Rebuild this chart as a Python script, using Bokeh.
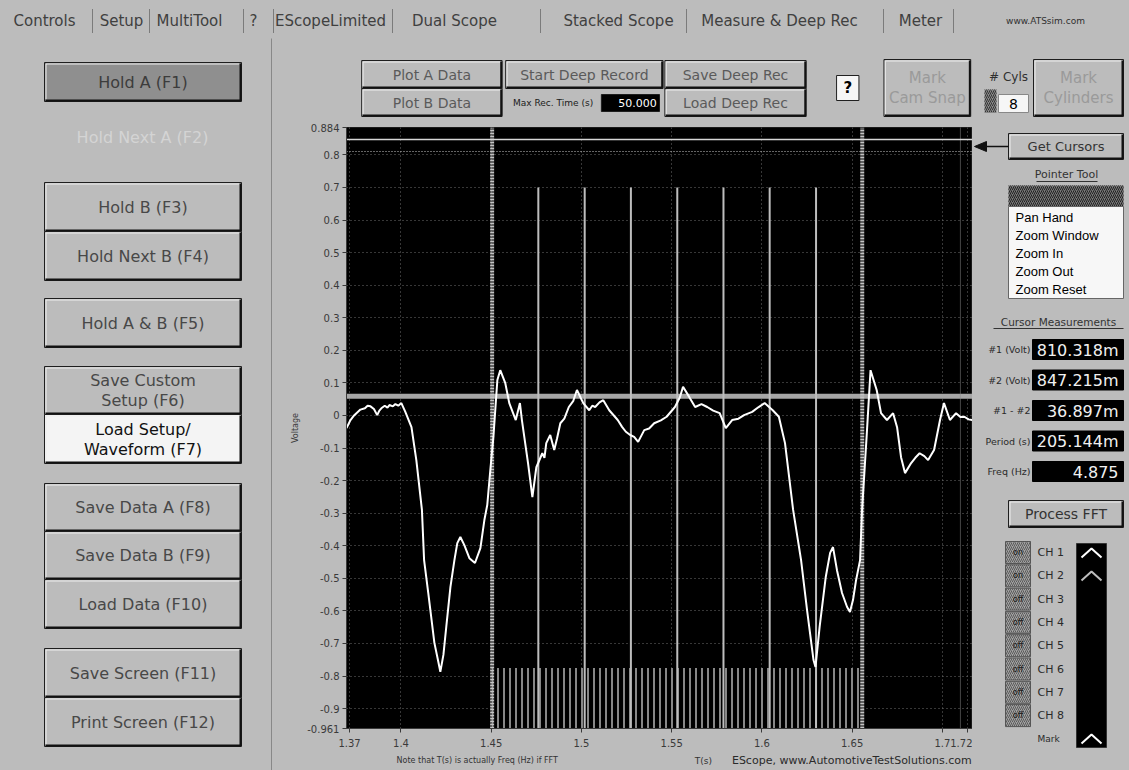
from bokeh.plotting import figure
from bokeh.layouts import row, column
from bokeh.models import Range1d, FixedTicker
from bokeh.core.properties import value
from bokeh.embed import file_html
from bokeh.resources import INLINE

# ---------------- data ----------------
time_s = [1.3698, 1.3720, 1.3740, 1.3753, 1.3775, 1.3800, 1.3815, 1.3831, 1.3850, 1.3868,
          1.3880, 1.3891, 1.3910, 1.3925, 1.3936, 1.3955, 1.3969, 1.3985, 1.4002, 1.4024,
          1.4058, 1.4085, 1.4116, 1.4128, 1.4151, 1.4185, 1.4207, 1.4218, 1.4235, 1.4251,
          1.4274, 1.4296, 1.4312, 1.4329, 1.4351, 1.4379, 1.4410, 1.4440, 1.4462, 1.4478,
          1.4495, 1.4512, 1.4534, 1.4550, 1.4578, 1.4600, 1.4636, 1.4659, 1.4670, 1.4704,
          1.4728, 1.4750, 1.4783, 1.4795, 1.4805, 1.4827, 1.4849, 1.4865, 1.4883, 1.4905,
          1.4930, 1.4955, 1.4975, 1.4995, 1.5010, 1.5043, 1.5060, 1.5076, 1.5100, 1.5121,
          1.5154, 1.5201, 1.5225, 1.5246, 1.5270, 1.5292, 1.5314, 1.5348, 1.5375, 1.5403,
          1.5440, 1.5472, 1.5518, 1.5545, 1.5563, 1.5597, 1.5630, 1.5665, 1.5697, 1.5730,
          1.5766, 1.5800, 1.5835, 1.5870, 1.5901, 1.5946, 1.5980, 1.6015, 1.6060, 1.6094,
          1.6128, 1.6173, 1.6217, 1.6250, 1.6286, 1.6297, 1.6320, 1.6354, 1.6378, 1.6394,
          1.6416, 1.6444, 1.6472, 1.6488, 1.6505, 1.6522, 1.6544, 1.6555, 1.6580, 1.6602,
          1.6636, 1.6660, 1.6693, 1.6727, 1.6749, 1.6771, 1.6793, 1.6827, 1.6850, 1.6874,
          1.6900, 1.6921, 1.6954, 1.6987, 1.7009, 1.7042, 1.7076, 1.7100, 1.7122, 1.7145,
          1.7167]
voltage_v = [-0.039, -0.014, 0.000, 0.007, 0.018, 0.022, 0.030, 0.028, 0.020, 0.001,
             0.015, 0.022, 0.030, 0.024, 0.032, 0.028, 0.035, 0.030, 0.038, 0.011,
             -0.036, -0.137, -0.290, -0.444, -0.545, -0.698, -0.757, -0.787, -0.735, -0.648,
             -0.526, -0.444, -0.392, -0.373, -0.398, -0.438, -0.453, -0.407, -0.321, -0.275,
             -0.168, -0.066, 0.109, 0.139, 0.099, 0.038, -0.014, 0.038, -0.014, -0.146,
             -0.251, -0.159, -0.116, -0.130, -0.085, -0.060, -0.106, -0.070, -0.024, -0.010,
             0.026, 0.045, 0.078, 0.055, 0.038, 0.016, 0.030, 0.026, 0.040, 0.047,
             0.016, -0.014, -0.035, -0.050, -0.060, -0.066, -0.081, -0.045, -0.040, -0.024,
             -0.015, -0.004, 0.026, 0.055, 0.088, 0.057, 0.026, 0.035, 0.026, 0.015,
             0.007, -0.039, -0.014, -0.010, 0.001, 0.011, 0.025, 0.038, 0.016, -0.004,
             -0.085, -0.290, -0.444, -0.597, -0.751, -0.772, -0.648, -0.495, -0.422, -0.404,
             -0.475, -0.545, -0.588, -0.603, -0.566, -0.505, -0.444, -0.290, -0.067, 0.139,
             0.078, 0.007, -0.014, 0.007, -0.036, -0.128, -0.177, -0.146, -0.130, -0.116,
             -0.125, -0.137, -0.106, -0.014, 0.038, -0.014, 0.007, -0.005, -0.004, -0.012,
             -0.014]

ch2_time = [1.3698, 1.7167]
ch2_volt = [0.059, 0.059]

cursor_time = [1.4505, 1.6556]
cursor_volt = [0.8103, 0.8472]
cylinder_time = [1.4761, 1.5018, 1.5274, 1.5531, 1.5787, 1.6043, 1.6300]
cylinder_top = 0.70
mark_level = -0.775
ref_time = 1.7100

x_limits = [1.3698, 1.7167]
y_limits = [-0.961, 0.884]
x_ticks = [1.3715, 1.4, 1.45, 1.5, 1.55, 1.6, 1.65, 1.7, 1.714]
x_tick_labels = ["1.37", "1.4", "1.45", "1.5", "1.55", "1.6", "1.65", "1.7", "1.72"]
y_ticks = [0.884, 0.8, 0.7, 0.6, 0.5, 0.4, 0.3, 0.2, 0.1, 0.0,
           -0.1, -0.2, -0.3, -0.4, -0.5, -0.6, -0.7, -0.8, -0.9, -0.961]
y_tick_labels = ["0.884", "0.8", "0.7", "0.6", "0.5", "0.4", "0.3", "0.2", "0.1", "0",
                 "-0.1", "-0.2", "-0.3", "-0.4", "-0.5", "-0.6", "-0.7", "-0.8", "-0.9", "-0.961"]

tab_labels = ["Controls", "Setup", "MultiTool", "?", "EScopeLimited", "Dual Scope",
              "Stacked Scope", "Measure & Deep Rec", "Meter"]
site_label = "www.ATSsim.com"
left_buttons = [["Hold A (F1)"], ["Hold B (F3)"], ["Hold Next B (F4)"], ["Hold A & B (F5)"],
                ["Save Custom", "Setup (F6)"], ["Load Setup/", "Waveform (F7)"],
                ["Save Data A (F8)"], ["Save Data B (F9)"], ["Load Data (F10)"],
                ["Save Screen (F11)"], ["Print Screen (F12)"]]
disabled_left = "Hold Next A (F2)"
measure_names = ["#1 (Volt)", "#2 (Volt)", "#1 - #2", "Period (s)", "Freq (Hz)"]
measure_values = ["810.318m", "847.215m", "36.897m", "205.144m", "4.875"]
pointer_tools = ["Pan Hand", "Zoom Window", "Zoom In", "Zoom Out", "Zoom Reset"]
channel_names = ["CH 1", "CH 2", "CH 3", "CH 4", "CH 5", "CH 6", "CH 7", "CH 8"]
channel_states = ["on", "on", "off", "off", "off", "off", "off", "off"]
cylinder_count = "8"
max_rec_time = "50.000"
note_text = "Note that T(s) is actually Freq (Hz) if FFT"
x_title = "T(s)"
credit_text = "EScope, www.AutomotiveTestSolutions.com"

# ---------------- styles ----------------
BG = "#bcbcbc"
TXT = "#484848"
FAINT = "#9a9a9a"
FONT = "DejaVu Sans"
ARIAL = "Liberation Sans"
GRAY_CSS = {"background-color": BG}


def ui_panel(x0, x1, y0, y1):
    p = figure(width=x1 - x0, height=y1 - y0,
               x_range=Range1d(x0, x1), y_range=Range1d(y1, y0),
               x_axis_type=None, y_axis_type=None,
               output_backend="svg", toolbar_location=None,
               min_border=0, outline_line_color=None,
               background_fill_color=BG, border_fill_color=BG)
    return p


def txt(p, x, y, s, size, color=TXT, align="center", font=FONT, style="normal"):
    p.text(x=[x], y=[y], text=[s], text_align=align, text_baseline="middle",
           text_color=color, text_font=value(font), text_font_size=size,
           text_font_style=style)


def box(p, x0, y0, x1, y1, fill, line="#1e1e1e", width=1, hatch=None, hatch_color="#4a4a4a"):
    kw = {}
    if hatch:
        kw = dict(hatch_pattern=hatch, hatch_color=hatch_color, hatch_scale=4, hatch_weight=1)
    p.quad(left=[x0], right=[x1], top=[y0], bottom=[y1], fill_color=fill,
           line_color=line, line_width=width, **kw)


def button(p, x0, y0, x1, y1, lines, fill=BG, color=TXT, size="16px", font=FONT, lh=20):
    box(p, x0, y0, x1, y1, fill)
    p.line([x0 + 1.5, x0 + 1.5, x1 - 2], [y1 - 2, y0 + 1.5, y0 + 1.5], line_color="#ededed", line_width=1)
    p.line([x0 + 1, x1 - 1, x1 - 1], [y1 - 1, y1 - 1, y0 + 1], line_color="#111111", line_width=2)
    n = len(lines)
    cy = (y0 + y1) / 2
    for i, s in enumerate(lines):
        txt(p, (x0 + x1) / 2, cy + (i - (n - 1) / 2) * lh, s, size, color, font=font)


# ---------------- top tab bar ----------------
top = ui_panel(0, 1129, 0, 38)
tab_x = [44, 121, 189, 253, 330, 454, 618, 779, 920]
for x, s in zip(tab_x, tab_labels):
    txt(top, x, 20, s, "15px", color="#404040")
for x in [92, 149, 243, 273, 392, 540, 686, 883, 953]:
    top.line([x, x], [9, 33], line_color="#3a3a3a", line_width=1, line_dash="1 1")
txt(top, 1045, 20, site_label, "9px", color="#303030")

# ---------------- left control panel ----------------
left = ui_panel(0, 272, 38, 770)
left_boxes = [(62, 101), (182, 231), (231, 280), (298, 347), (366, 414), (414, 463),
              (483, 531), (531, 579), (579, 628), (648, 697), (697, 746)]
for (y0, y1), lines in zip(left_boxes, left_buttons):
    if lines[0] == "Hold A (F1)":
        button(left, 44, y0, 241, y1, lines, fill="#8f8f8f", color="#3c3c3c")
    elif lines[0] == "Load Setup/":
        button(left, 44, y0, 241, y1, lines, fill="#f4f4f4", color="#111111")
    else:
        button(left, 44, y0, 241, y1, lines)
txt(left, 142, 137, disabled_left, "16px", color="#d4d4d4")
left.line([271, 271], [38, 770], line_color="#555555", line_width=1, line_dash="1 1")

# ---------------- top buttons above the scope ----------------
mid = ui_panel(272, 972, 38, 120)
button(mid, 289, 60, 446, 88, ["Plot A Data"], size="14px", color="#5a5a5a")
button(mid, 289, 88, 446, 116, ["Plot B Data"], size="14px", color="#5a5a5a")
button(mid, 450, 60, 626, 88, ["Start Deep Record"], size="14px", color="#5a5a5a")
txt(mid, 503, 102, "Max Rec. Time (s)", "9px", color="#202020")
box(mid, 557, 94, 622, 111, "#000000")
txt(mid, 619, 102.5, max_rec_time, "11px", color="white", align="right")
button(mid, 628, 60, 786, 88, ["Save Deep Rec"], size="14px", color="#5a5a5a")
button(mid, 628, 88, 786, 116, ["Load Deep Rec"], size="14px", color="#5a5a5a")
box(mid, 820, 75, 845, 100, "#f6f6f6", line="#202020")
txt(mid, 832.5, 87.5, "?", "15px", color="#000000", style="bold")
button(mid, 873, 59, 970, 116, ["Mark", "Cam Snap"], size="15px", color=FAINT, lh=20)

# ---------------- main scope plot ----------------
main = figure(width=700, height=632,
              x_range=Range1d(x_limits[0], x_limits[1]),
              y_range=Range1d(y_limits[0], y_limits[1]),
              output_backend="svg", toolbar_location=None,
              min_border_left=74, min_border_right=0, min_border_top=7, min_border_bottom=24,
              background_fill_color="#000000", border_fill_color=BG,
              outline_line_color="#1a1a1a")
main.xaxis.ticker = FixedTicker(ticks=x_ticks)
main.xaxis.major_label_overrides = {t: s for t, s in zip(x_ticks, x_tick_labels)}
main.yaxis.ticker = FixedTicker(ticks=y_ticks)
main.yaxis.major_label_overrides = {t: s for t, s in zip(y_ticks, y_tick_labels)}
for ax in (main.xaxis[0], main.yaxis[0]):
    ax.major_label_text_font = FONT
    ax.major_label_text_font_size = "10px"
    ax.major_label_text_color = "#3a3a3a"
    ax.axis_line_color = "#3a3a3a"
    ax.major_tick_line_color = "#3a3a3a"
    ax.major_tick_out = 4
    ax.major_tick_in = 0
    ax.minor_tick_line_color = None
main.xaxis.major_label_standoff = 6
main.yaxis.major_label_standoff = 3
main.yaxis.axis_label = "Voltage"
main.yaxis.axis_label_text_font = FONT
main.yaxis.axis_label_text_font_size = "8px"
main.yaxis.axis_label_text_font_style = "normal"
main.yaxis.axis_label_text_color = "#3a3a3a"
main.yaxis.axis_label_standoff = 4
main.grid.grid_line_color = "#6e6e6e"
main.grid.grid_line_dash = "1 3"
main.grid.grid_line_width = 1

# Mark channel pulses between the cursors
main.quad(left=[cursor_time[0]], right=[cursor_time[1]], bottom=[y_limits[0]], top=[mark_level],
          fill_color="#000000", line_color=None,
          hatch_pattern="|", hatch_color="#b4b4b4", hatch_scale=6, hatch_weight=1.5)
# CH2 trace
main.line(ch2_time, ch2_volt, line_color="#a6a6a6", line_width=5)
# cylinder marks
main.segment(x0=cylinder_time, y0=[cylinder_top] * len(cylinder_time),
             x1=cylinder_time, y1=[y_limits[0]] * len(cylinder_time),
             line_color="#bdbdbd", line_width=2)
# vertical cursors
main.segment(x0=cursor_time, y0=[y_limits[0]] * 2, x1=cursor_time, y1=[y_limits[1]] * 2,
             line_color="#c4c4c4", line_width=4, line_dash="2 1")
main.segment(x0=[ref_time], y0=[y_limits[0]], x1=[ref_time], y1=[y_limits[1]],
             line_color="#8c8c8c", line_width=1, line_dash="1 1")
# horizontal cursors
main.segment(x0=[x_limits[0]], y0=[cursor_volt[1]], x1=[x_limits[1]], y1=[cursor_volt[1]],
             line_color="#d6d6d6", line_width=1.5)
main.segment(x0=[x_limits[0]], y0=[cursor_volt[0]], x1=[x_limits[1]], y1=[cursor_volt[0]],
             line_color="#c8c8c8", line_width=1.2, line_dash="1 2")
# CH1 waveform
main.line(time_s, voltage_v, line_color="#ffffff", line_width=2)

# ---------------- strip of text under the scope ----------------
foot = ui_panel(272, 972, 752, 770)
txt(foot, 328, 760, note_text, "8px", color="#333333", align="left")
txt(foot, 671, 760, x_title, "9px", color="#333333")
txt(foot, 703, 760, credit_text, "11px", color="#2a2a2a", align="left")

# ---------------- right panel ----------------
right = ui_panel(972, 1129, 38, 770)
txt(right, 1008, 76, "# Cyls", "12px", color="#303030")
box(right, 984, 89, 996, 112, "#8a8a8a", line=None, hatch="/", hatch_color="#333333")
box(right, 998, 94, 1028, 112, "#f6f6f6", line="#888888")
txt(right, 1013, 103, cylinder_count, "14px", color="#000000")
button(right, 1033, 59, 1123, 116, ["Mark", "Cylinders"], size="15px", color=FAINT, lh=20)

button(right, 1008, 133, 1123, 159, ["Get Cursors"], size="13px", color="#333333")
right.line([982, 1008], [146, 146], line_color="#111111", line_width=1.5)
right.patch([974, 986, 986], [146, 141, 151], fill_color="#111111", line_color="#111111")

txt(right, 1066, 174, "Pointer Tool", "11px", color="#333333")
right.line([1036, 1097], [181, 181], line_color="#333333", line_width=1)
box(right, 1008, 185, 1123, 206, "#777777", line=None, hatch="/", hatch_color="#222222")
box(right, 1008, 206, 1123, 298, "#f7f7f7", line="#666666")
for i, s in enumerate(pointer_tools):
    txt(right, 1015, 217 + i * 18, s, "13px", color="#000000", align="left", font=ARIAL)

txt(right, 1058, 321, "Cursor Measurements", "10.5px", color="#333333")
right.line([993, 1123], [328, 328], line_color="#333333", line_width=1)
for i, (nm, vl) in enumerate(zip(measure_names, measure_values)):
    cy = 349 + i * 30.5
    txt(right, 1030, cy, nm, "9.5px", color="#2a2a2a", align="right")
    box(right, 1032, cy - 10, 1123, cy + 10, "#000000", line="#000000")
    txt(right, 1118, cy + 0.5, vl, "16px", color="#f0f0f0", align="right")

button(right, 1008, 500, 1123, 527, ["Process FFT"], size="14px", color="#333333")

for i, (nm, st) in enumerate(zip(channel_names, channel_states)):
    cy = 552 + i * 23.3
    box(right, 1005, cy - 11, 1030, cy + 11, "#a2a2a2", line="#555555", hatch="/", hatch_color="#5a5a5a")
    txt(right, 1017.5, cy, st, "8px", color="#1a1a1a")
    txt(right, 1037, cy, nm, "11px", color="#2a2a2a", align="left")
txt(right, 1037, 738, "Mark", "9px", color="#2a2a2a", align="left")
box(right, 1076, 543, 1106, 747, "#000000", line="#333333")
for cy, col in [(552, "#ffffff"), (575, "#bdbdbd"), (738, "#ffffff")]:
    right.line([1081, 1091, 1101], [cy + 5, cy - 4, cy + 5], line_color=col, line_width=2)

middle = column(mid, main, foot, spacing=0, styles=GRAY_CSS)
body = row(left, middle, right, spacing=0, styles=GRAY_CSS)
layout = column(top, body, spacing=0, styles=GRAY_CSS)

open("out.html", "w").write(file_html(layout, INLINE))
